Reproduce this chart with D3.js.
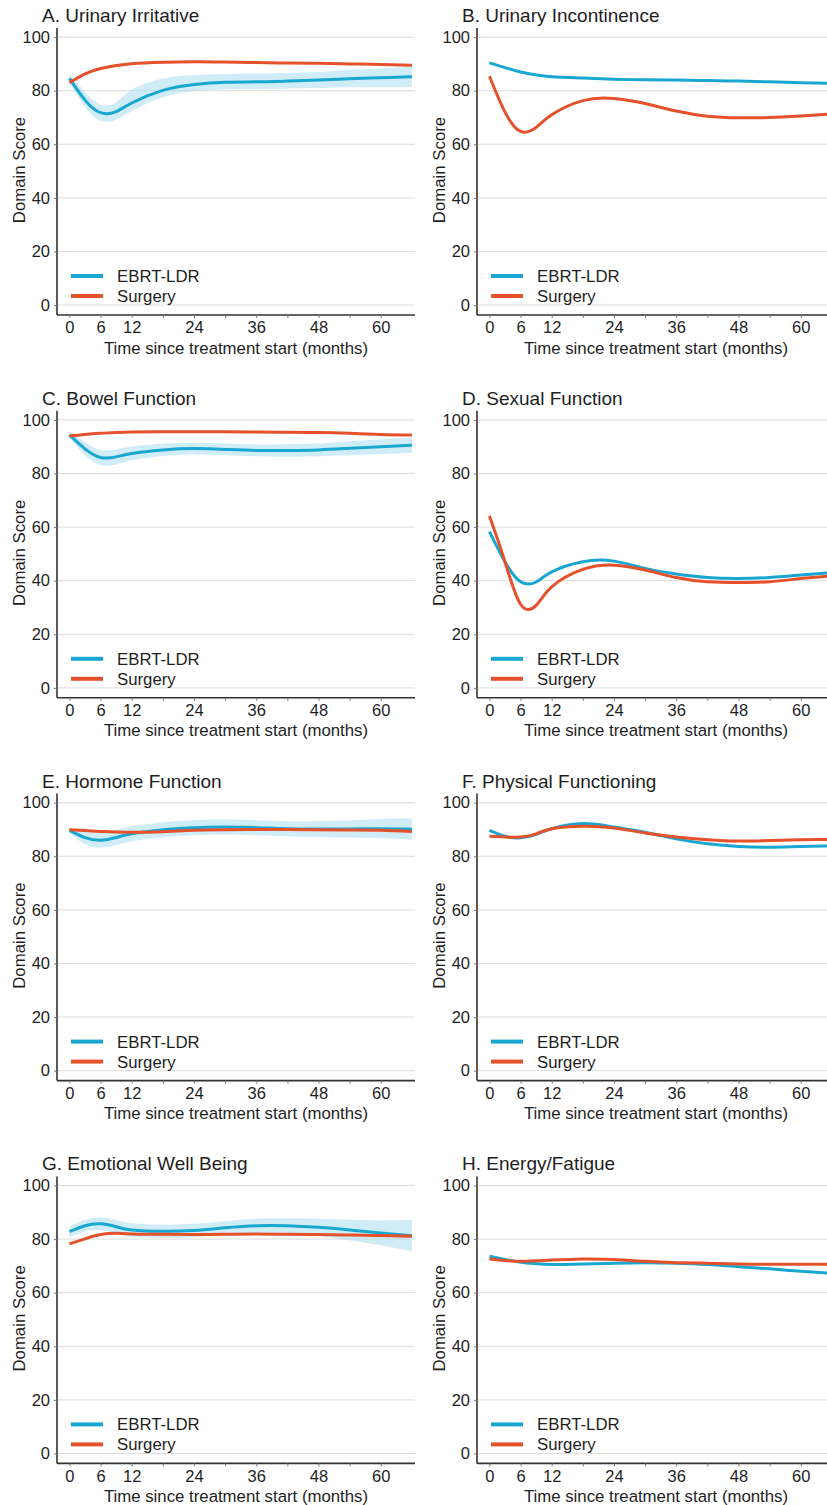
<!DOCTYPE html>
<html><head><meta charset="utf-8">
<script src="https://cdn.jsdelivr.net/npm/d3@7"></script>
<style>body{margin:0;background:#fff}svg{display:block}text{font-family:"Liberation Sans",Arial,sans-serif;fill:#1e1e1e}</style>
</head><body><svg id="c" width="827" height="1505"></svg>
<script>
const months = [0,3,6,9,12,18,24,30,36,42,48,54,60,66];
const xTicks = [0,6,12,18,24,30,36,42,48,54,60];
const xLabels = [0,6,12,24,36,48,60];
const yTicks = [0,20,40,60,80,100];
const seriesNames = ["EBRT-LDR","Surgery"];
const titles = ["A. Urinary Irritative","B. Urinary Incontinence","C. Bowel Function","D. Sexual Function",
  "E. Hormone Function","F. Physical Functioning","G. Emotional Well Being","H. Energy/Fatigue"];

// A
const aEbrt = [84.6,76.5,71.8,72.2,75.4,80.1,82.3,83.2,83.3,83.6,84.0,84.5,84.8,85.2];
const aSurg = [83.0,86.3,88.3,89.4,90.1,90.6,90.8,90.7,90.5,90.3,90.2,90.0,89.8,89.5];
const aCiUp = [1.5,3.0,3.0,3.5,5.0,4.5,3.5,3.0,3.0,3.0,3.0,3.2,3.5,3.8];
const aCiDn = [1.5,2.5,3.0,3.0,3.0,2.5,2.5,2.7,2.7,2.8,3.0,3.2,3.5,3.8];
// B
const bEbrt = [90.4,88.6,87.0,85.9,85.2,84.7,84.3,84.1,84.0,83.8,83.6,83.3,83.0,82.7];
const bSurg = [85.4,72.0,64.8,66.3,71.0,76.3,77.1,75.2,72.4,70.5,69.9,70.0,70.6,71.3];
// C
const cEbrt = [94.4,89.2,86.0,86.2,87.5,88.8,89.3,89.0,88.6,88.6,88.8,89.4,90.0,90.5];
const cSurg = [94.0,94.6,95.0,95.3,95.5,95.6,95.6,95.6,95.5,95.4,95.3,95.0,94.6,94.4];
const cCiUp = [1.0,2.5,2.8,2.8,2.6,2.3,2.2,2.2,2.2,2.3,2.4,2.6,2.8,2.8];
const cCiDn = [1.0,2.5,2.8,2.8,2.6,2.3,2.2,2.2,2.2,2.3,2.4,2.6,2.8,2.8];
// D
const dEbrt = [58.3,47.0,39.6,39.5,43.3,47.1,47.3,44.6,42.5,41.2,40.8,41.2,42.1,43.0];
const dSurg = [64.1,47.0,31.2,30.8,37.7,44.2,45.8,44.0,41.2,39.6,39.3,39.6,40.8,41.8];
// E
const eEbrt = [89.7,87.0,86.0,87.0,88.4,89.9,90.7,90.9,90.7,90.3,90.2,90.2,90.3,90.2];
const eSurg = [89.9,89.6,89.3,89.1,89.0,89.2,89.7,89.9,90.0,90.0,89.9,89.8,89.7,89.3];
const eCiUp = [1.0,2.5,2.8,2.8,2.8,2.8,2.8,2.8,2.8,2.8,3.0,3.2,3.6,4.0];
const eCiDn = [1.0,2.5,2.8,2.8,2.8,2.8,2.8,2.8,2.8,2.8,3.0,3.2,3.6,4.0];
// F
const fEbrt = [89.7,87.5,86.9,88.2,90.3,92.2,90.9,89.0,86.5,84.7,83.7,83.4,83.7,83.9];
const fSurg = [87.5,87.2,87.2,88.4,90.3,91.2,90.6,88.7,87.2,86.2,85.7,85.9,86.2,86.3];
// G
const gEbrt = [82.8,85.0,85.7,84.6,83.4,82.9,83.2,84.2,85.0,85.0,84.4,83.4,82.3,81.3];
const gSurg = [78.2,80.1,81.7,82.2,81.9,81.8,81.7,81.8,81.9,81.8,81.7,81.5,81.3,81.1];
const gCiUp = [2.0,2.2,2.4,2.5,2.5,2.5,2.5,2.5,2.6,2.8,3.2,3.8,4.6,5.8];
const gCiDn = [2.0,2.2,2.4,2.5,2.5,2.5,2.5,2.5,2.6,2.8,3.2,3.8,4.6,5.8];
// H
const hEbrt = [73.6,72.4,71.4,70.8,70.5,70.7,71.0,71.2,71.0,70.5,69.7,68.9,68.0,67.2];
const hSurg = [72.6,72.0,71.7,71.9,72.2,72.6,72.4,71.7,71.2,71.0,70.7,70.6,70.6,70.6];

const panels = [
  {ebrt:aEbrt,surg:aSurg,up:aCiUp,dn:aCiDn},
  {ebrt:bEbrt,surg:bSurg},
  {ebrt:cEbrt,surg:cSurg,up:cCiUp,dn:cCiDn},
  {ebrt:dEbrt,surg:dSurg},
  {ebrt:eEbrt,surg:eSurg,up:eCiUp,dn:eCiDn},
  {ebrt:fEbrt,surg:fSurg},
  {ebrt:gEbrt,surg:gSurg,up:gCiUp,dn:gCiDn},
  {ebrt:hEbrt,surg:hSurg}
];

const BLUE = "#19a7d2", RED = "#e5512a";
const FS = "16.5px";
const svg = d3.select("#c");
const x = d3.scaleLinear().domain([-2.4,66.6]).range([57,415]);
const y = d3.scaleLinear().domain([-3.7,103.4]).range([315,28]);
const curve = d3.curveNatural;

panels.forEach((p,i)=>{
  const col = i%2, row = Math.floor(i/2);
  const g = svg.append("g").attr("transform",`translate(${col*420},${row*382.8})`);
  g.append("g").selectAll("line").data(yTicks).join("line")
    .attr("x1",x.range()[0]).attr("x2",x.range()[1])
    .attr("y1",d=>y(d)).attr("y2",d=>y(d))
    .attr("stroke","#dcdcdc").attr("stroke-width",1);
  if(p.up){
    const area = d3.area().curve(curve)
      .x((d,j)=>x(months[j]))
      .y0((d,j)=>y(d-p.dn[j])).y1((d,j)=>y(d+p.up[j]));
    g.append("path").datum(p.ebrt).attr("d",area).attr("fill","#a9dcef").attr("opacity",0.55);
  }
  const line = d3.line().curve(curve).x((d,j)=>x(months[j])).y(d=>y(d));
  g.append("path").datum(p.ebrt).attr("d",line).attr("fill","none").attr("stroke",BLUE).attr("stroke-width",3);
  g.append("path").datum(p.surg).attr("d",line).attr("fill","none").attr("stroke",RED).attr("stroke-width",3);

  const xa = g.append("g").attr("transform",`translate(0,${y.range()[0]})`)
    .call(d3.axisBottom(x).tickValues(xTicks).tickSize(3).tickPadding(4)
      .tickFormat(d=>xLabels.includes(d)?d:""));
  xa.select(".domain").attr("d",`M${x.range()[0]},0H${x.range()[1]}`).attr("stroke","#333").attr("stroke-width",1.6);
  xa.selectAll(".tick line").attr("stroke","#777");
  xa.selectAll(".tick text").attr("font-size",FS).attr("dy","0.68em").style("fill","#1e1e1e");
  const ya = g.append("g").attr("transform",`translate(${x.range()[0]},0)`)
    .call(d3.axisLeft(y).tickValues(yTicks).tickSize(3).tickPadding(4));
  ya.select(".domain").attr("d",`M0,${y.range()[1]}V${y.range()[0]}`).attr("stroke","#333").attr("stroke-width",1.6);
  ya.selectAll(".tick line").attr("stroke","#777");
  ya.selectAll(".tick text").attr("font-size",FS).style("fill","#1e1e1e");

  g.append("text").attr("x",42).attr("y",22).attr("font-size","19px").text(titles[i]);
  g.append("text").attr("x",236).attr("y",353.5).attr("text-anchor","middle").attr("font-size","16.8px")
    .text("Time since treatment start (months)");
  g.append("text").attr("transform","translate(25,170) rotate(-90)").attr("text-anchor","middle")
    .attr("font-size","16.8px").text("Domain Score");

  const lg = g.append("g");
  [BLUE,RED].forEach((c,k)=>{
    const ly = 276 + k*20;
    lg.append("line").attr("x1",71).attr("x2",103).attr("y1",ly).attr("y2",ly).attr("stroke",c).attr("stroke-width",4);
    lg.append("text").attr("x",117).attr("y",ly+6).attr("font-size","16.8px").text(seriesNames[k]);
  });
});
</script></body></html>
